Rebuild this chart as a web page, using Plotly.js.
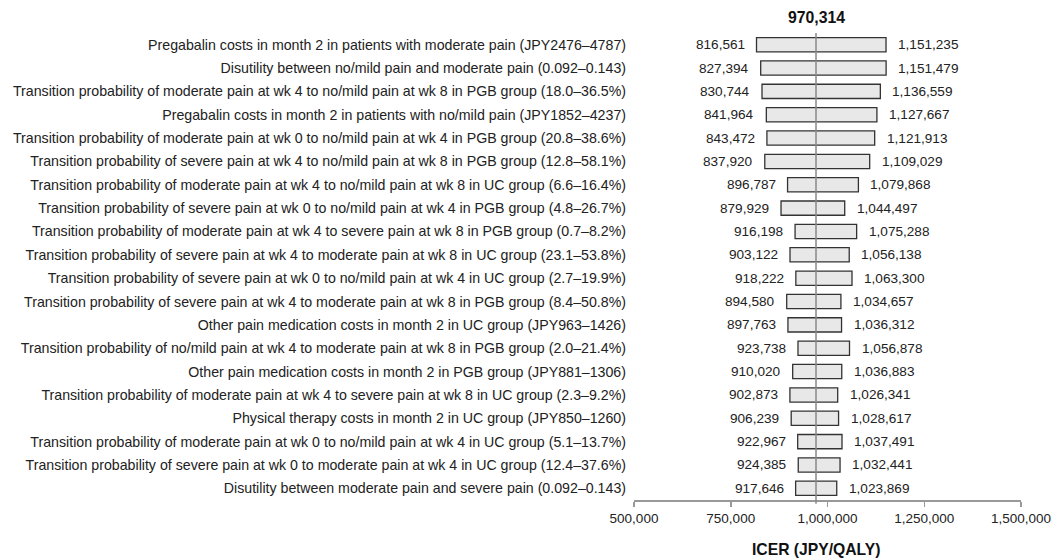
<!DOCTYPE html>
<html>
<head>
<meta charset="utf-8">
<script src="https://cdn.plot.ly/plotly-3.0.1.min.js"></script>
<style>html,body{margin:0;padding:0;background:#fff;}#chart{width:1052px;height:558px;}</style>
</head>
<body>
<div id="chart"></div>
<script>
const baseValue = 970314;
const parameters = [
  "Pregabalin costs in month 2 in patients with moderate pain (JPY2476–4787)",
  "Disutility between no/mild pain and moderate pain (0.092–0.143)",
  "Transition probability of moderate pain at wk 4 to no/mild pain at wk 8 in PGB group (18.0–36.5%)",
  "Pregabalin costs in month 2 in patients with no/mild pain (JPY1852–4237)",
  "Transition probability of moderate pain at wk 0 to no/mild pain at wk 4 in PGB group (20.8–38.6%)",
  "Transition probability of severe pain at wk 4 to no/mild pain at wk 8 in PGB group (12.8–58.1%)",
  "Transition probability of moderate pain at wk 4 to no/mild pain at wk 8 in UC group (6.6–16.4%)",
  "Transition probability of severe pain at wk 0 to no/mild pain at wk 4 in PGB group (4.8–26.7%)",
  "Transition probability of moderate pain at wk 4 to severe pain at wk 8 in PGB group (0.7–8.2%)",
  "Transition probability of severe pain at wk 4 to moderate pain at wk 8 in UC group (23.1–53.8%)",
  "Transition probability of severe pain at wk 0 to no/mild pain at wk 4 in UC group (2.7–19.9%)",
  "Transition probability of severe pain at wk 4 to moderate pain at wk 8 in PGB group (8.4–50.8%)",
  "Other pain medication costs in month 2 in UC group (JPY963–1426)",
  "Transition probability of no/mild pain at wk 4 to moderate pain at wk 8 in PGB group (2.0–21.4%)",
  "Other pain medication costs in month 2 in PGB group (JPY881–1306)",
  "Transition probability of moderate pain at wk 4 to severe pain at wk 8 in UC group (2.3–9.2%)",
  "Physical therapy costs in month 2 in UC group (JPY850–1260)",
  "Transition probability of moderate pain at wk 0 to no/mild pain at wk 4 in UC group (5.1–13.7%)",
  "Transition probability of severe pain at wk 0 to moderate pain at wk 4 in UC group (12.4–37.6%)",
  "Disutility between moderate pain and severe pain (0.092–0.143)"
];
const lowValues = [816561, 827394, 830744, 841964, 843472, 837920, 896787, 879929, 916198, 903122,
                   918222, 894580, 897763, 923738, 910020, 902873, 906239, 922967, 924385, 917646];
const highValues = [1151235, 1151479, 1136559, 1127667, 1121913, 1109029, 1079868, 1044497, 1075288, 1056138,
                    1063300, 1034657, 1036312, 1056878, 1036883, 1026341, 1028617, 1037491, 1032441, 1023869];
const xTickVals = [500000, 750000, 1000000, 1250000, 1500000];
const xTickText = ["500,000", "750,000", "1,000,000", "1,250,000", "1,500,000"];

const fmt = v => v.toLocaleString('en-US');
const FONT = "Liberation Sans, Arial, sans-serif";

const trace = {
  type: 'bar',
  orientation: 'h',
  y: parameters,
  base: lowValues,
  x: highValues.map((h, i) => h - lowValues[i]),
  width: 0.61,
  marker: {color: '#e8e8e8', line: {color: '#333333', width: 1.3}},
  hoverinfo: 'skip'
};

const annotations = [];
parameters.forEach((p, i) => {
  annotations.push({x: lowValues[i], y: p, xref: 'x', yref: 'y', text: fmt(lowValues[i]),
    showarrow: false, xanchor: 'right', xshift: -10, font: {family: FONT, size: 13.6, color: '#222'}});
  annotations.push({x: highValues[i], y: p, xref: 'x', yref: 'y', text: fmt(highValues[i]),
    showarrow: false, xanchor: 'left', xshift: 10, font: {family: FONT, size: 13.6, color: '#222'}});
});
annotations.push({x: baseValue, xref: 'x', y: 1, yref: 'paper', yshift: 16, yanchor: 'middle',
  text: '<b>' + fmt(baseValue) + '</b>', showarrow: false, font: {family: FONT, size: 15.8, color: '#111'}});
annotations.push({x: baseValue, xref: 'x', y: 0, yref: 'paper', yshift: -49, yanchor: 'middle',
  text: '<b>ICER (JPY/QALY)</b>', showarrow: false, font: {family: FONT, size: 15.7, color: '#111'}});

const layout = {
  width: 1052, height: 558,
  margin: {l: 634, r: 31, t: 33, b: 58},
  paper_bgcolor: '#fff', plot_bgcolor: '#fff',
  showlegend: false,
  font: {family: FONT, size: 13.5, color: '#222'},
  xaxis: {
    range: [500000, 1500000], tickvals: xTickVals, ticktext: xTickText,
    showgrid: false, zeroline: false, showline: true, linecolor: '#999', linewidth: 1.5,
    ticks: 'outside', ticklen: 5, tickcolor: '#999', tickwidth: 1.5,
    ticklabeloverflow: 'allow',
    tickfont: {family: FONT, size: 13.5, color: '#222'}
  },
  yaxis: {
    type: 'category', autorange: 'reversed', showgrid: false, zeroline: false, showline: false,
    ticks: '', ticklabelstandoff: 7,
    tickfont: {family: FONT, size: 14.2, color: '#222'}
  },
  shapes: [{type: 'line', xref: 'x', yref: 'paper', x0: baseValue, x1: baseValue, y0: -0.008, y1: 1,
    line: {color: '#888', width: 1.5}}],
  annotations: annotations
};

Plotly.newPlot('chart', [trace], layout, {displayModeBar: false, staticPlot: true});
</script>
</body>
</html>
